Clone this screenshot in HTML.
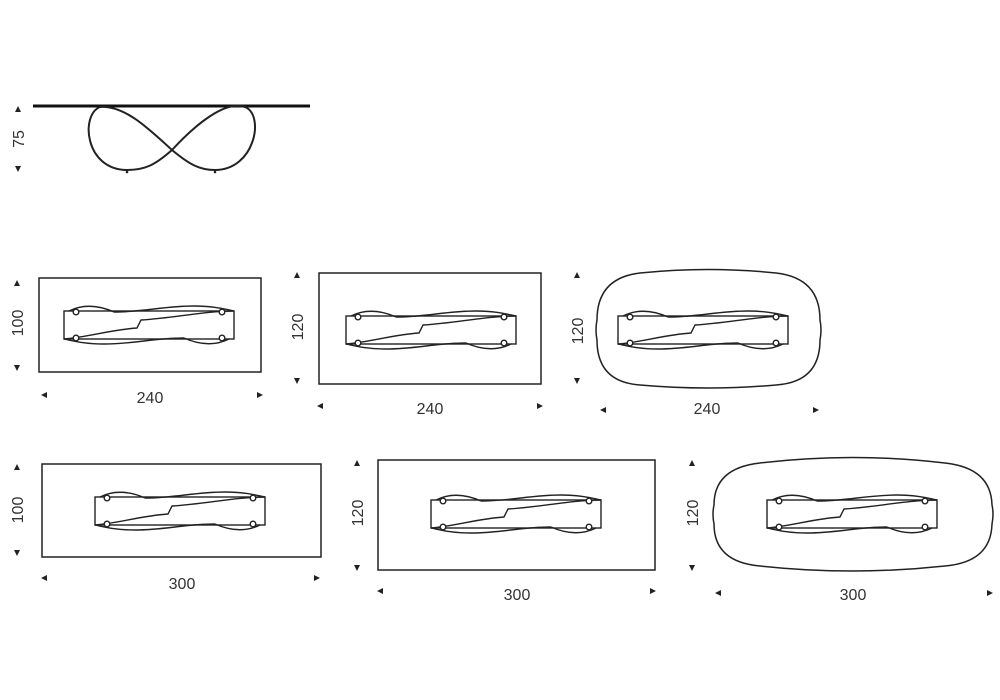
<!DOCTYPE html>
<html><head><meta charset="utf-8"><style>
html,body{margin:0;padding:0;background:#fff;}
svg{display:block}
text{font-family:"Liberation Sans",sans-serif;font-size:16px;fill:#333}
</style></head><body>
<svg width="1000" height="700" viewBox="0 0 1000 700" xmlns="http://www.w3.org/2000/svg">
<defs>
<symbol id="b" viewBox="-90 -20 180 40" overflow="visible">
<g fill="none" stroke="#222" stroke-width="1.4">
<rect x="-85" y="-14" width="170" height="28"/>
<path d="M-80,-14 Q-60,-24 -35,-13"/>
<path d="M-35,-13 C-5,-13 15,-19 45,-19 C65,-19 75,-16 85,-14"/>
<path d="M80,14 Q60,24 35,13"/>
<path d="M35,13 C5,13 -15,19 -45,19 C-65,19 -75,16 -85,14"/>
<path d="M-85,14 C-60,12 -40,5 -12,3 L-8,-5 C25,-7 55,-14 85,-14"/>
<circle cx="-73" cy="-13" r="2.8" fill="#fff"/>
<circle cx="73" cy="-13" r="2.8" fill="#fff"/>
<circle cx="-73" cy="13" r="2.8" fill="#fff"/>
<circle cx="73" cy="13" r="2.8" fill="#fff"/>
</g>
</symbol>
</defs>

<!-- side view -->
<line x1="33" y1="106" x2="310" y2="106" stroke="#111" stroke-width="3"/>
<path d="M100,107 C125,105 150,130 172,150 C190,165 200,170 215,170 C255,170 265,115 245,107 C225,100 195,125 172,150 C155,165 145,170 127,170 C85,170 80,115 100,107 Z" fill="none" stroke="#222" stroke-width="2"/>
<circle cx="127" cy="172" r="1.3" fill="#222"/><circle cx="215" cy="172" r="1.3" fill="#222"/>
<path d="M15,112 l3,-6 l3,6z M15,166 l3,6 l3,-6z" fill="#222"/>
<text transform="translate(24,139) rotate(-90)" text-anchor="middle">75</text>

<!-- table 1 -->
<rect x="39" y="278" width="222" height="94" fill="none" stroke="#222" stroke-width="1.5"/>
<use href="#b" x="59" y="305" width="180" height="40"/>
<path d="M14,286 l3,-6 l3,6z M14,365 l3,6 l3,-6z" fill="#222"/>
<text transform="translate(23,323) rotate(-90)" text-anchor="middle">100</text>
<path d="M47,392 l-6,3 l6,3z M257,392 l6,3 l-6,3z" fill="#222"/>
<text x="150" y="403" text-anchor="middle">240</text>

<!-- table 2 -->
<rect x="319" y="273" width="222" height="111" fill="none" stroke="#222" stroke-width="1.5"/>
<use href="#b" x="341" y="310" width="180" height="40"/>
<path d="M294,278 l3,-6 l3,6z M294,378 l3,6 l3,-6z" fill="#222"/>
<text transform="translate(303,327) rotate(-90)" text-anchor="middle">120</text>
<path d="M323,403 l-6,3 l6,3z M537,403 l6,3 l-6,3z" fill="#222"/>
<text x="430" y="414" text-anchor="middle">240</text>

<!-- table 3 -->
<path d="M640,273 Q708,266 776,273 Q820,278 820,320 Q822,330 820,340 Q820,382 776,385 Q708,391 640,385 Q597,382 597,340 Q595,330 597,320 Q597,278 640,273 Z" fill="none" stroke="#222" stroke-width="1.5"/>
<use href="#b" x="613" y="310" width="180" height="40"/>
<path d="M574,278 l3,-6 l3,6z M574,378 l3,6 l3,-6z" fill="#222"/>
<text transform="translate(583,331) rotate(-90)" text-anchor="middle">120</text>
<path d="M606,407 l-6,3 l6,3z M813,407 l6,3 l-6,3z" fill="#222"/>
<text x="707" y="414" text-anchor="middle">240</text>

<!-- table 4 -->
<rect x="42" y="464" width="279" height="93" fill="none" stroke="#222" stroke-width="1.5"/>
<use href="#b" x="90" y="491" width="180" height="40"/>
<path d="M14,470 l3,-6 l3,6z M14,550 l3,6 l3,-6z" fill="#222"/>
<text transform="translate(23,510) rotate(-90)" text-anchor="middle">100</text>
<path d="M47,575 l-6,3 l6,3z M314,575 l6,3 l-6,3z" fill="#222"/>
<text x="182" y="589" text-anchor="middle">300</text>

<!-- table 5 -->
<rect x="378" y="460" width="277" height="110" fill="none" stroke="#222" stroke-width="1.5"/>
<use href="#b" x="426" y="494" width="180" height="40"/>
<path d="M354,466 l3,-6 l3,6z M354,565 l3,6 l3,-6z" fill="#222"/>
<text transform="translate(363,513) rotate(-90)" text-anchor="middle">120</text>
<path d="M383,588 l-6,3 l6,3z M650,588 l6,3 l-6,3z" fill="#222"/>
<text x="517" y="600" text-anchor="middle">300</text>

<!-- table 6 -->
<path d="M760,463 Q852,452 945,463 Q991,468 992,505 Q994,514 992,524 Q991,562 945,566 Q852,576 760,566 Q714,562 714,524 Q712,514 714,505 Q714,468 760,463 Z" fill="none" stroke="#222" stroke-width="1.5"/>
<use href="#b" x="762" y="494" width="180" height="40"/>
<path d="M689,466 l3,-6 l3,6z M689,565 l3,6 l3,-6z" fill="#222"/>
<text transform="translate(698,513) rotate(-90)" text-anchor="middle">120</text>
<path d="M721,590 l-6,3 l6,3z M987,590 l6,3 l-6,3z" fill="#222"/>
<text x="853" y="600" text-anchor="middle">300</text>
</svg>
</body></html>
